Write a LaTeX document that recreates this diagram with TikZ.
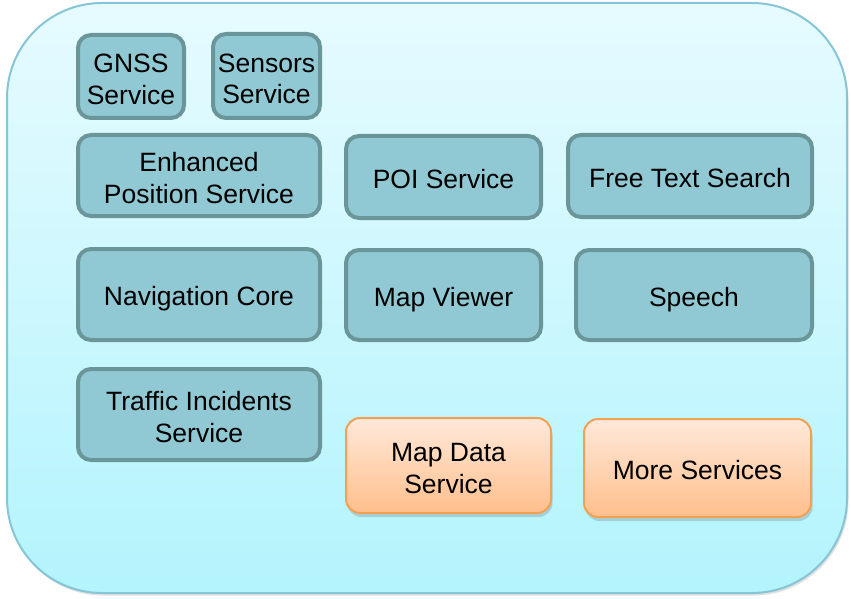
\documentclass[tikz,border=0pt]{standalone}
\usepackage{fontspec}
\setmainfont{Liberation Sans}
\usetikzlibrary{shadings,shadows}
\definecolor{outerline}{HTML}{86C5D6}
\definecolor{outertop}{HTML}{E6FBFF}
\definecolor{outerbot}{HTML}{B3F4FD}
\definecolor{tealfill}{HTML}{90C9D3}
\definecolor{tealline}{HTML}{6A9599}
\definecolor{orgtop}{HTML}{FFE9DA}
\definecolor{orgbot}{HTML}{FFBF8C}
\definecolor{orgline}{HTML}{F2A154}
\newcommand{\topstr}{\rule{0pt}{24pt}}
\tikzset{
  x=1pt, y=1pt,
  txtbase/.style={align=center, inner sep=0pt, font=\fontsize{26.5}{31.5}\selectfont, text=black},
  oneline/.style={execute at begin node={\rule{0pt}{28pt}}, execute at end node={\rule[-5pt]{0pt}{5pt}}},
  svc/.style={txtbase, draw=tealline, line width=4pt, fill=tealfill, rounded corners=13pt},
  orgbox/.style={txtbase, draw=orgline, line width=2pt, top color=orgtop, bottom color=orgbot,
    rounded corners=14pt,
    drop shadow={shadow xshift=1.5pt, shadow yshift=-4pt, opacity=0.25, fill=black!60}},
}
\begin{document}
\begin{tikzpicture}
\useasboundingbox (0,0) rectangle (851,-599);
\fill[white] (0,0) rectangle (851,-599);
% outer container
\fill[black!30, opacity=0.4, rounded corners=95pt] (8,-5.5) rectangle (848.5,-595.5);
\draw[outerline, line width=2pt, top color=outertop, bottom color=outerbot, rounded corners=95pt]
  (7,-3) rectangle (847,-593);
% teal services
\node[svc, minimum width=106pt, minimum height=83pt] (gnss) at (131,-76.5) {\topstr GNSS\\Service};
\node[svc, minimum width=107pt, minimum height=84pt] (sens) at (266.5,-76) {\topstr Sensors\\Service};
\node[svc, minimum width=242pt, minimum height=81pt] (enh) at (199,-175.5) {\topstr Enhanced\\Position Service};
\node[svc, oneline, minimum width=195pt, minimum height=82pt] (poi) at (443.5,-177) {POI Service};
\node[svc, oneline, minimum width=244pt, minimum height=82pt] (fts) at (690,-176) {Free Text Search};
\node[svc, oneline, minimum width=242pt, minimum height=91pt] (nav) at (199,-294.5) {Navigation Core};
\node[svc, oneline, minimum width=195pt, minimum height=90pt] (mv) at (443.5,-295) {Map Viewer};
\node[svc, oneline, minimum width=236pt, minimum height=90pt] (sp) at (694,-295) {Speech};
\node[svc, minimum width=242pt, minimum height=91pt] (tis) at (199,-414.5) {\topstr Traffic Incidents\\Service};
% orange services
\node[orgbox, minimum width=205pt, minimum height=95pt] (mds) at (448.5,-465.5) {\topstr Map Data\\Service};
\node[orgbox, oneline, minimum width=227pt, minimum height=98pt] (more) at (697.5,-468) {More Services};
\end{tikzpicture}
\end{document}
